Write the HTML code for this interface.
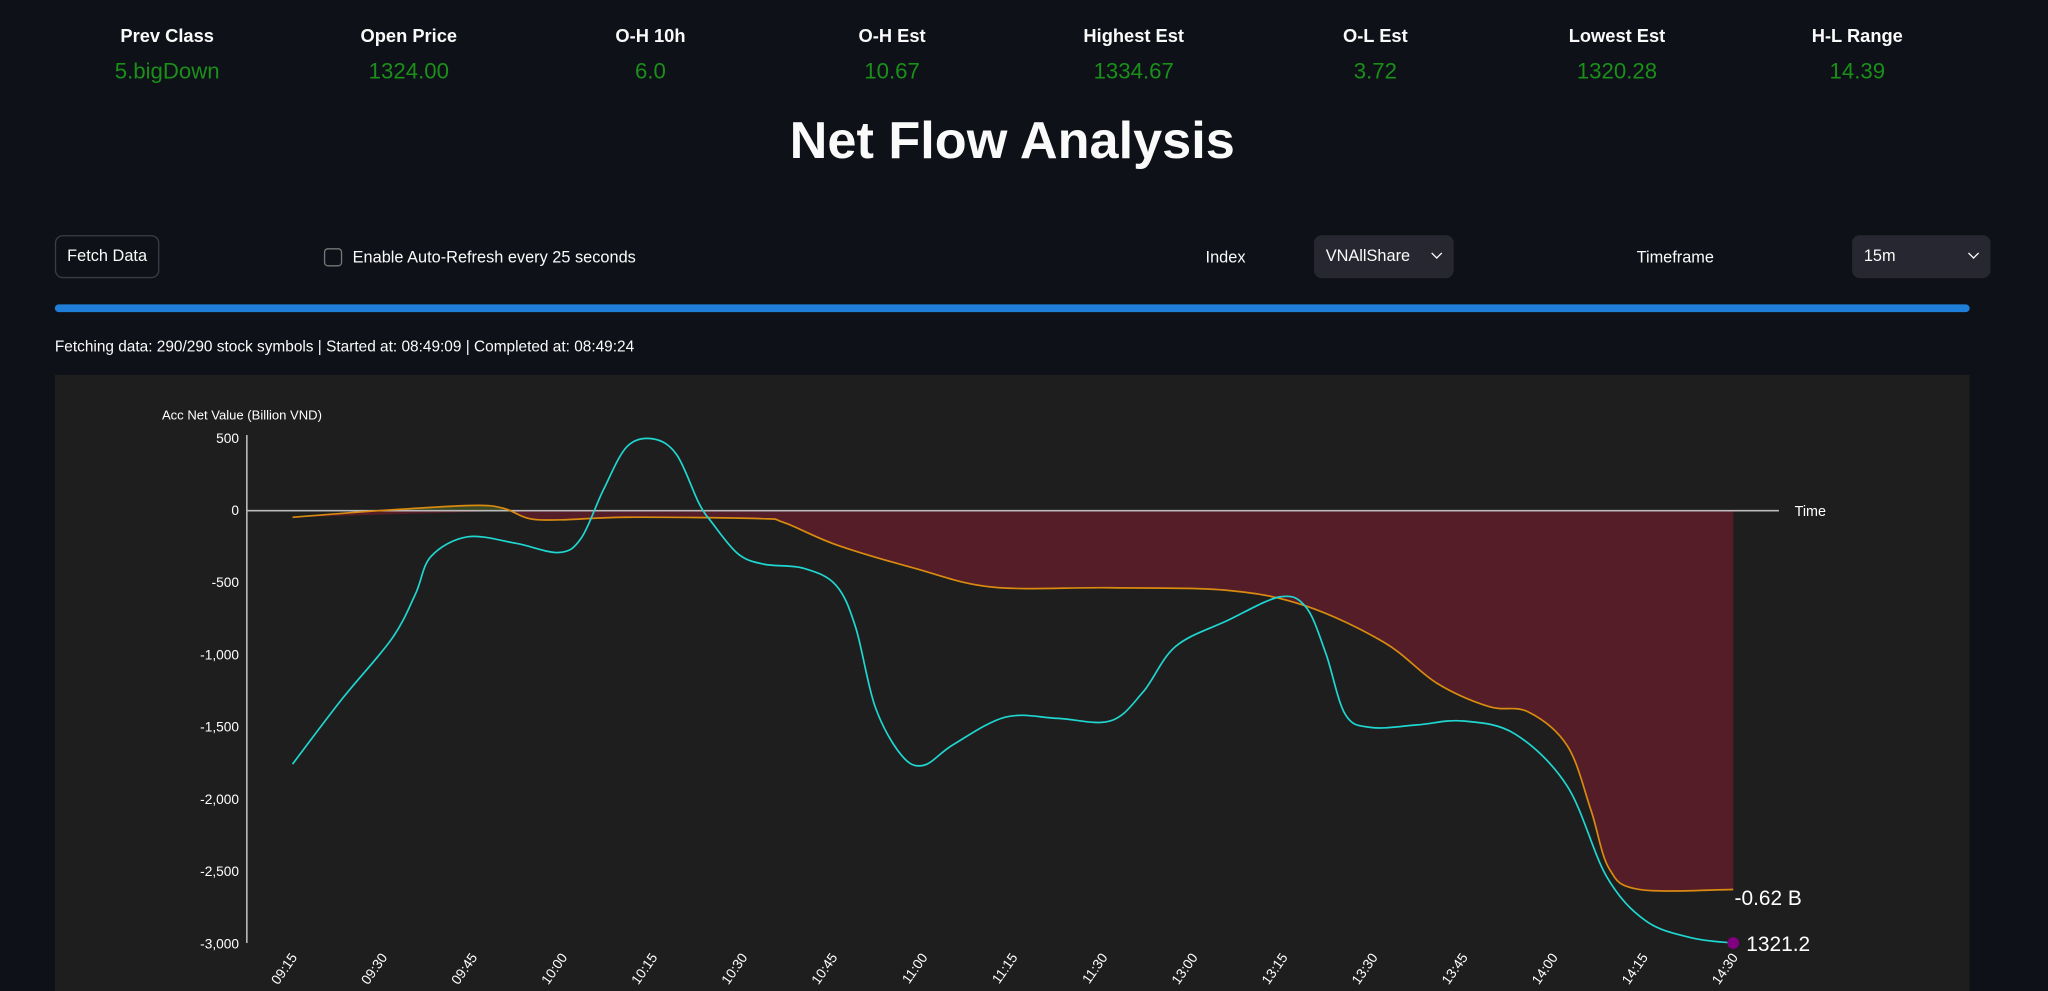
<!DOCTYPE html>
<html><head><meta charset="utf-8">
<style>
html,body{margin:0;padding:0;background:#0e1117;overflow:hidden;width:2048px;height:991px}
#w{position:absolute;left:0;top:0;width:1568px;height:759px;transform:scale(1.306122);transform-origin:0 0;font-family:"Liberation Sans",sans-serif;color:#fafafa}
.m{position:absolute;text-align:center;width:180px}
.m b{display:block;position:absolute;top:19px;width:180px;font-size:14px}
.m span{display:block;position:absolute;top:45px;width:180px;font-size:17px;color:#1a8f1a}
.t{position:absolute;left:0;width:1550px;top:86px;text-align:center;font-size:40px;font-weight:bold}
.btn{position:absolute;left:42px;top:180px;width:80px;height:33px;border:1px solid #3a3d46;border-radius:6px;box-sizing:border-box;font-size:12.5px;line-height:31px;text-align:center}
.sel{position:absolute;top:180px;height:33px;background:#262730;border-radius:6px;font-size:12.5px;line-height:33px;box-sizing:border-box;padding-left:9px}
.sel i{position:absolute;right:10px;top:11px;width:5px;height:5px;border-right:1.5px solid #fff;border-bottom:1.5px solid #fff;transform:rotate(45deg)}
.lb{position:absolute;top:190px;font-size:12.5px}
</style></head><body><div id="w">
<div class="m" style="left:38px"><b>Prev Class</b><span>5.bigDown</span></div>
<div class="m" style="left:223px"><b>Open Price</b><span>1324.00</span></div>
<div class="m" style="left:408px"><b>O-H 10h</b><span>6.0</span></div>
<div class="m" style="left:593px"><b>O-H Est</b><span>10.67</span></div>
<div class="m" style="left:778px"><b>Highest Est</b><span>1334.67</span></div>
<div class="m" style="left:963px"><b>O-L Est</b><span>3.72</span></div>
<div class="m" style="left:1148px"><b>Lowest Est</b><span>1320.28</span></div>
<div class="m" style="left:1332px"><b>H-L Range</b><span>14.39</span></div>
<div class="t">Net Flow Analysis</div>
<div class="btn">Fetch Data</div>
<div style="position:absolute;left:248px;top:190px;width:12px;height:12px;border:1px solid #777;border-radius:3px"></div>
<div class="lb" style="left:270px">Enable Auto-Refresh every 25 seconds</div>
<div class="lb" style="left:923px">Index</div>
<div class="sel" style="left:1006px;width:107px">VNAllShare<i></i></div>
<div class="lb" style="left:1253px">Timeframe</div>
<div class="sel" style="left:1418px;width:106px">15m<i></i></div>
<div style="position:absolute;left:42px;top:233px;width:1466px;height:6px;background:#1f7fd8;border-radius:3px"></div>
<div style="position:absolute;left:42px;top:258px;font-size:11.8px">Fetching data: 290/290 stock symbols | Started at: 08:49:09 | Completed at: 08:49:24</div>
<div style="position:absolute;left:42px;top:287px;width:1466px;height:472px;background:#1e1e1e"></div>
<svg id="c" style="position:absolute;left:0;top:0" width="1568" height="759" font-family="Liberation Sans,sans-serif" fill="#fff">
<text x="124" y="321" font-size="10">Acc Net Value (Billion VND)</text>
<line x1="189" y1="333" x2="189" y2="722" stroke="#ddd" stroke-width="1"/>
<g id="yl" font-size="10.5" text-anchor="end"></g>
<g id="xl" font-size="10.5" text-anchor="end"></g>
<path id="fr" fill="#551d28"/>
<path id="fg" fill="#3b4a24"/>
<line x1="189" y1="391" x2="1362" y2="391" stroke="#bbb" stroke-width="1.3"/>
<text x="1374" y="395" font-size="11">Time</text>
<path id="po" fill="none" stroke="#d98a10" stroke-width="1.3"/>
<path id="pc" fill="none" stroke="#1fd6d0" stroke-width="1.3"/>
<circle cx="1327" cy="722" r="4.5" fill="#800080"/>
<text x="1328" y="693" font-size="16">-0.62 B</text>
<text x="1337" y="728" font-size="16">1321.2</text>
</svg>
</div>
<script>
var ns="http://www.w3.org/2000/svg";
function el(p,t,a,tx){var e=document.createElementNS(ns,t);for(var k in a)e.setAttribute(k,a[k]);if(tx)e.textContent=tx;p.appendChild(e);}
var yl=document.getElementById('yl'),labs=["500","0","-500","-1,000","-1,500","-2,000","-2,500","-3,000"];
for(var i=0;i<8;i++)el(yl,'text',{x:183,y:339+i*55.3},labs[i]);
var xl=document.getElementById('xl'),ts=["09:15","09:30","09:45","10:00","10:15","10:30","10:45","11:00","11:15","11:30","13:00","13:15","13:30","13:45","14:00","14:15","14:30"];
for(var i=0;i<17;i++){var x=224+i*68.94+4,y=733;el(xl,'text',{x:x,y:y,transform:'rotate(-55 '+x+' '+y+')'},ts[i]);}
function path(p){var d="M"+p[0][0]+","+p[0][1];for(var i=0;i<p.length-1;i++){var p0=p[i-1]||p[i],p1=p[i],p2=p[i+1],p3=p[i+2]||p2;
d+=" C"+(p1[0]+(p2[0]-p0[0])/6)+","+(p1[1]+(p2[1]-p0[1])/6)+" "+(p2[0]-(p3[0]-p1[0])/6)+","+(p2[1]-(p3[1]-p1[1])/6)+" "+p2[0]+","+p2[1];}return d;}
var cy=[[224,585],[262,535],[300,489],[318,455],[330,426],[358,411],[395,416],[428,423],[445,412],[462,375],[480,342],[500,336],[518,348],[535,385],[545,400],[565,424],[585,432],[615,435],[640,448],[655,480],[670,541],[690,578],[707,586],[730,570],[770,549],[810,550],[850,552],[875,530],[900,495],[940,475],[980,457],[1000,465],[1015,500],[1030,547],[1050,557],[1085,555],[1120,552],[1160,562],[1200,602],[1230,671],[1260,705],[1295,718],[1327,722]];
var or=[[224,396],[290,391],[360,387],[385,389],[405,397],[430,398],[480,396],[580,397],[600,400],[640,417],[700,435],[760,449.5],[850,450],[940,452],[1000,464],[1060,492],[1100,523],[1140,541],[1170,545],[1200,571],[1218,620],[1232,665],[1255,681],[1327,681]];
document.getElementById('pc').setAttribute('d',path(cy));
var od=path(or);document.getElementById('po').setAttribute('d',od);
document.getElementById('fr').setAttribute('d',od+" L1327,391 L395,391 Z");
document.getElementById('fg').setAttribute('d',path([[285,391],[320,389],[360,387],[385,389],[395,391]])+" Z");
</script>
</body></html>
